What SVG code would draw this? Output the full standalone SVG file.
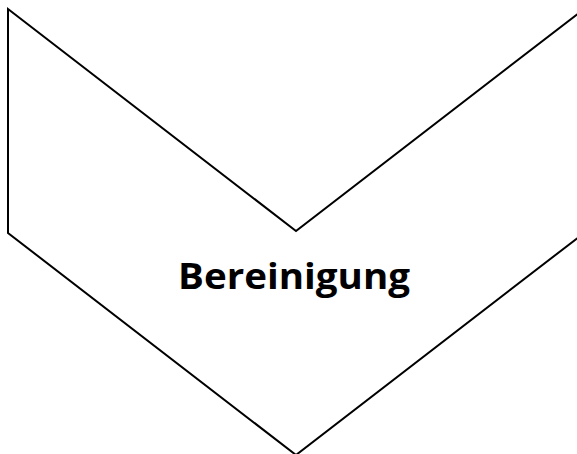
<svg xmlns="http://www.w3.org/2000/svg" width="577" height="454" viewBox="0 0 577 454">
<style>
.shape{fill:#fff;stroke:#000;stroke-width:2;stroke-linejoin:miter}
.lbl{font-family:"Open Sans","Liberation Sans",sans-serif;font-weight:bold;font-size:36px;fill:#000}
</style>
<rect width="577" height="454" fill="#fff"/>
<g id="chevron">
<polygon class="shape" points="8,9 296,231 584,9 584,233 296,455 8,233"/>
<text class="lbl" x="294" y="289" text-anchor="middle" textLength="232" lengthAdjust="spacingAndGlyphs">Bereinigung</text>
</g>
</svg>
